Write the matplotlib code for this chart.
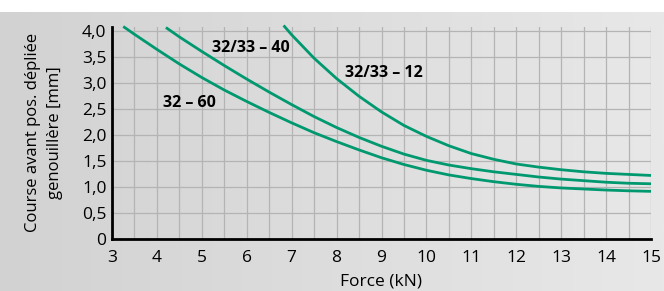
import numpy as np
import matplotlib
matplotlib.use("Agg")
import matplotlib.pyplot as plt
from matplotlib.colors import LinearSegmentedColormap
from matplotlib.ticker import MultipleLocator, FixedLocator, FixedFormatter

plt.rcParams['font.family'] = ['Open Sans', 'DejaVu Sans']

# Courbes
x_60 = [3.25, 3.5, 4.0, 4.5, 5.0, 5.5, 6.0, 6.5, 7.0, 7.5, 8.0, 8.5, 9.0, 9.5,
        10.0, 10.5, 11.0, 11.5, 12.0, 12.5, 13.0, 13.5, 14.0, 14.5, 15.0]
y_60 = [4.08, 3.93, 3.64, 3.36, 3.10, 2.86, 2.64, 2.43, 2.23, 2.04, 1.87, 1.71, 1.56, 1.43,
        1.32, 1.23, 1.16, 1.10, 1.05, 1.01, 0.98, 0.96, 0.94, 0.925, 0.915]

x_40 = [4.2, 4.5, 5.0, 5.5, 6.0, 6.5, 7.0, 7.5, 8.0, 8.5, 9.0, 9.5, 10.0, 10.5,
        11.0, 11.5, 12.0, 12.5, 13.0, 13.5, 14.0, 14.5, 15.0]
y_40 = [4.06, 3.88, 3.60, 3.33, 3.07, 2.82, 2.58, 2.35, 2.14, 1.95, 1.78, 1.63, 1.51, 1.42,
        1.35, 1.29, 1.24, 1.19, 1.15, 1.12, 1.09, 1.07, 1.06]

x_12 = [6.82, 7.0, 7.5, 8.0, 8.5, 9.0, 9.5, 10.0, 10.5, 11.0, 11.5, 12.0, 12.5,
        13.0, 13.5, 14.0, 14.5, 15.0]
y_12 = [4.10, 3.92, 3.47, 3.08, 2.74, 2.44, 2.18, 1.97, 1.79, 1.64, 1.53, 1.44, 1.38,
        1.33, 1.29, 1.26, 1.24, 1.22]

labels = ["32 – 60", "32/33 – 40", "32/33 – 12"]
label_pos = [(4.14, 2.62), (5.22, 3.67), (8.19, 3.19)]

yticks = [0, 0.5, 1.0, 1.5, 2.0, 2.5, 3.0, 3.5, 4.0]
ytick_labels = ["0", "0,5", "1,0", "1,5", "2,0", "2,5", "3,0", "3,5", "4,0"]

GREEN = "#00996f"

fig = plt.figure(figsize=(6.64, 2.91), dpi=100, facecolor="white")

# fond gris en degradé
bg = fig.add_axes([0, 0, 1, 279 / 291])
grad = np.linspace(0, 1, 256).reshape(1, -1)
bg.imshow(grad, aspect="auto", extent=[0, 1, 0, 1],
          cmap=LinearSegmentedColormap.from_list("g", ["#d2d2d2", "#e8e8e8"]))
bg.axis("off")

ax = fig.add_axes([112 / 664, 52 / 291, 539 / 664, 212 / 291])
ax.set_facecolor("none")
ax.set_xlim(3, 15)
ax.set_ylim(0, 4.07)

for xs, ys in [(x_60, y_60), (x_40, y_40), (x_12, y_12)]:
    ax.plot(xs, ys, color=GREEN, lw=2, solid_capstyle="butt", clip_on=False, zorder=3)

for txt, (tx, ty) in zip(labels, label_pos):
    ax.text(tx, ty, txt, fontsize=11.5, fontweight="bold", va="center", ha="left", zorder=4)

ax.xaxis.set_major_locator(MultipleLocator(1))
ax.xaxis.set_minor_locator(MultipleLocator(0.5))
ax.yaxis.set_major_locator(FixedLocator(yticks))
ax.yaxis.set_major_formatter(FixedFormatter(ytick_labels))
ax.grid(True, which="both", axis="x", color="#b4b4b4", lw=0.9, zorder=1)
ax.grid(True, which="major", axis="y", color="#b4b4b4", lw=0.9, zorder=1)
ax.tick_params(which="both", length=0, labelsize=12.5)
ax.tick_params(axis="x", pad=8)
ax.tick_params(axis="y", pad=4)

for s in ["top", "right"]:
    ax.spines[s].set_visible(False)
for s in ["left", "bottom"]:
    ax.spines[s].set_linewidth(2)
    ax.spines[s].set_zorder(5)

ax.set_xlabel("Force (kN)", fontsize=12.5, labelpad=5)
fig.text(44 / 664, 0.545, "Course avant pos. dépliée\ngenouillère [mm]", rotation=90,
         ha="center", va="center", fontsize=12, multialignment="center", linespacing=1.55)

plt.savefig("out.png", dpi=100)
